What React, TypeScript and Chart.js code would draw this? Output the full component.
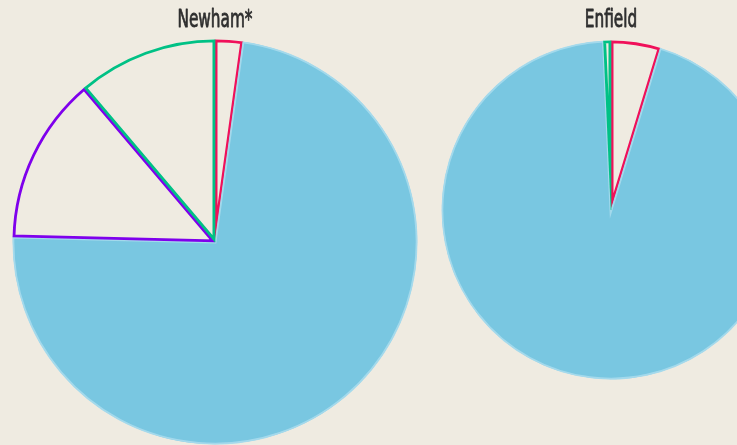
import React, { useEffect, useRef } from "react";
import { Chart, registerables } from "chart.js";

Chart.register(...registerables);

const categories = ["Red group", "Blue group", "Purple group", "Green group"];
const newhamValues = [2.2, 73.2, 13.4, 11.2];
const enfieldValues = [4.7, 94.6, 0, 0.7];
const titles = ["Newham*", "Enfield"];

const BG = "#efebe1";
const fills = ["rgba(0,0,0,0)", "#79c7e1", "rgba(0,0,0,0)", "rgba(0,0,0,0)"];
const borders = ["#f0105a", "rgba(165,218,236,0.95)", "#7f00ec", "#00c185"];
const TITLE_FONT = "24px 'DejaVu Sans Condensed', 'DejaVu Sans', sans-serif";

const titlePlugin = {
  id: "condensedTitle",
  afterDraw(chart: any, _args: any, opts: any) {
    const ctx = chart.ctx as CanvasRenderingContext2D;
    ctx.save();
    ctx.font = TITLE_FONT;
    const ref = ctx.measureText("Newham*").width;
    const sx = 75 / ref;
    ctx.fillStyle = "#2f2f2f";
    ctx.strokeStyle = "#2f2f2f";
    ctx.lineWidth = 0.8;
    ctx.lineJoin = "round";
    ctx.textAlign = "center";
    ctx.textBaseline = "alphabetic";
    const cx = (chart.chartArea.left + chart.chartArea.right) / 2;
    ctx.translate(cx, 27);
    ctx.scale(sx, 1);
    ctx.fillText(opts.text, 0, 0);
    ctx.strokeText(opts.text, 0, 0);
    ctx.restore();
  },
};

function PieChart({ title, values, left, padBottom, radius }: { title: string; values: number[]; left: number; padBottom: number; radius: number }) {
  const ref = useRef<HTMLCanvasElement | null>(null);
  useEffect(() => {
    if (!ref.current) return;
    const chart = new Chart(ref.current, {
      type: "pie",
      data: {
        labels: categories,
        datasets: [
          {
            data: values,
            backgroundColor: fills,
            borderColor: borders,
            borderWidth: [2.5, 1.5, 2.5, 2.5],
            borderAlign: "inner",
            borderJoinStyle: "miter",
          },
        ],
      },
      options: {
        responsive: false,
        animation: false,
        events: [],
        radius,
        layout: { padding: { top: 40, bottom: padBottom, left: 0, right: 0 } },
        plugins: {
          legend: { display: false },
          tooltip: { enabled: false },
          title: { display: false },
          condensedTitle: { text: title },
        } as any,
      },
      plugins: [titlePlugin],
    });
    return () => chart.destroy();
  }, []);
  return (
    <canvas
      ref={ref}
      width={428}
      height={445}
      style={{ position: "absolute", left, top: 0, width: 428, height: 445 }}
    />
  );
}

export default function App() {
  useEffect(() => {
    document.body.style.margin = "0";
    document.body.style.background = BG;
  }, []);
  return (
    <div style={{ position: "relative", width: 737, height: 445, overflow: "hidden", background: BG }}>
      <PieChart title={titles[0]} values={newhamValues} left={1} padBottom={1} radius={202.5} />
      <PieChart title={titles[1]} values={enfieldValues} left={397} padBottom={65} radius={169.5} />
    </div>
  );
}
